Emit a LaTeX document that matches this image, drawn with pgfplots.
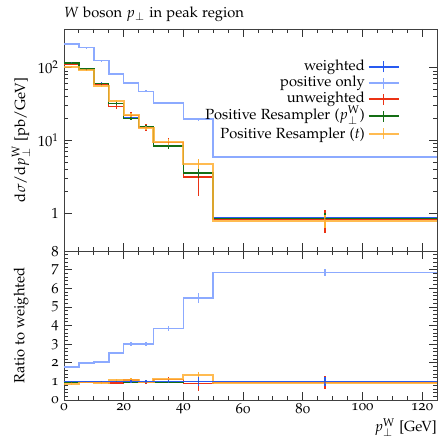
\documentclass[border=0pt]{standalone}
\usepackage[T1]{fontenc}
\usepackage[osf]{mathpazo}
\usepackage{pgfplots}
\pgfplotsset{compat=1.18}
\usepackage{pgfplotstable}

\definecolor{wblue}{RGB}{40,90,240}
\definecolor{pblue}{RGB}{140,170,255}
\definecolor{ured}{RGB}{235,50,20}
\definecolor{pgreen}{RGB}{20,110,20}
\definecolor{porange}{RGB}{255,175,50}

% lo: bin low edge, c: bin centre, y: dsigma/dpT, r: ratio to weighted, e: relative error
\pgfplotstableread{
lo c y r e
0 2.5 118 1 0.02
5 7.5 95.5 1 0.02
10 12.5 61 1 0.03
15 17.5 32 1 0.04
20 22.5 20.4 1 0.06
25 27.5 15.6 1 0.06
30 35 8.5 1 0.10
40 45 3.57 1 0.25
50 87.5 0.856 1 0.25
125 87.5 0.856 1 0
}\weighted
\pgfplotstableread{
lo c y r e
0 2.5 210 1.78 0.01
5 7.5 189 1.98 0.01
10 12.5 125 2.05 0.02
15 17.5 81 2.53 0.02
20 22.5 61.6 3.02 0.03
25 27.5 47.1 3.02 0.03
30 35 32.6 3.84 0.03
40 45 19.6 5.49 0.05
50 87.5 5.87 6.86 0.03
125 87.5 5.87 6.86 0
}\positive
\pgfplotstableread{
lo c y r e
0 2.5 112.1 0.95 0.03
5 7.5 93.6 0.98 0.03
10 12.5 59.8 0.98 0.04
15 17.5 29.4 0.92 0.07
20 22.5 22.0 1.08 0.10
25 27.5 15.1 0.97 0.10
30 35 9.35 1.10 0.15
40 45 3.14 0.88 0.45
50 87.5 0.813 0.95 0.35
125 87.5 0.813 0.95 0
}\unweighted
\pgfplotstableread{
lo c y r e
0 2.5 115.6 0.98 0.02
5 7.5 95.5 1.00 0.02
10 12.5 60.4 0.99 0.03
15 17.5 32 1.00 0.04
20 22.5 20.0 0.98 0.06
25 27.5 15.4 0.99 0.06
30 35 8.33 0.98 0.08
40 45 3.57 1.00 0.15
50 87.5 0.847 0.99 0.20
125 87.5 0.847 0.99 0
}\respt
\pgfplotstableread{
lo c y r e
0 2.5 102.7 0.87 0.02
5 7.5 92.6 0.97 0.02
10 12.5 56.7 0.93 0.03
15 17.5 34.6 1.08 0.04
20 22.5 22.4 1.10 0.06
25 27.5 14.8 0.95 0.06
30 35 9.52 1.12 0.08
40 45 4.75 1.33 0.15
50 87.5 0.788 0.92 0.20
125 87.5 0.788 0.92 0
}\rest

\pgfplotsset{
  rivet/.style={
    scale only axis, width=253.6pt,
    xmin=0, xmax=125,
    axis line style={line width=0.6pt, color=black!75},
    every tick/.style={line width=0.6pt, color=black!80},
    major tick length=5.4pt, minor tick length=2.7pt,
    tick align=inside,
    xtick={0,20,...,120}, minor x tick num=3,
    /pgf/number format/assume math mode=true,
    clip=true,
  },
  hist/.style={const plot, line width=1pt, mark=none},
  errb/.style={forget plot, only marks, mark=*, mark options={draw=none, fill=none, scale=0.01},
    error bars/.cd, y dir=both, y explicit, error mark=none,
    error bar style={line width=0.9pt}},
}

\begin{document}
\begin{tikzpicture}
\begin{axis}[rivet, name=top,
  height=151pt,
  ymode=log, ymin=0.3, ymax=340,
  ytick={1,10,100}, yticklabels={$1$,$10^1$,$10^2$},
  xticklabels={},
  ylabel={$\mathrm{d}\sigma/\mathrm{d}p_\perp^{\mathrm{W}}$ [pb/GeV]},
  ylabel style={at={(axis description cs:-0.115,0.5)}, anchor=center, rotate=0},
  title={$W$ boson $p_\perp$ in peak region},
  title style={at={(axis description cs:0,1)}, anchor=base west, yshift=2pt, inner sep=0pt},
  legend style={at={(axis description cs:0.9,0.865)}, anchor=north east, draw=none, fill=none,
    font=\normalsize, row sep=0.6pt, inner sep=0pt,
    nodes={text height=7.4pt, text depth=2.5pt, inner ysep=0.25pt}},
  legend cell align=right, legend plot pos=right,
  legend image code/.code={
    \draw[#1, mark=none, line width=1.1pt] (0cm,0cm) -- (0.72cm,0cm);
    \draw[#1, mark=none, line width=0.9pt] (0.36cm,-0.13cm) -- (0.36cm,0.13cm);},
]
\addplot[hist, wblue] table[x=lo,y=y]{\weighted};
\addlegendentry{weighted}
\addplot[hist, pblue, line width=1.1pt] table[x=lo,y=y]{\positive};
\addlegendentry{positive only}
\addplot[hist, ured] table[x=lo,y=y]{\unweighted};
\addlegendentry{unweighted}
\addplot[hist, pgreen] table[x=lo,y=y]{\respt};
\addlegendentry[text depth=3.4pt]{Positive Resampler ($p_\perp^{\mathrm{W}}$)}
\addplot[hist, porange, line width=1.4pt, opacity=0.85] table[x=lo,y=y]{\rest};
\addlegendentry[text height=8.4pt]{Positive Resampler ($t$)}

\addplot[wblue, errb] table[x=c,y=y,y error expr=\thisrow{y}*\thisrow{e}]{\weighted};
\addplot[pblue, errb] table[x=c,y=y,y error expr=\thisrow{y}*\thisrow{e}]{\positive};
\addplot[ured, errb] table[x=c,y=y,y error expr=\thisrow{y}*\thisrow{e}]{\unweighted};
\addplot[pgreen, errb] table[x=c,y=y,y error expr=\thisrow{y}*\thisrow{e}]{\respt};
\addplot[porange, errb] table[x=c,y=y,y error expr=\thisrow{y}*\thisrow{e}]{\rest};
\end{axis}

\begin{axis}[rivet, name=ratio, at={(top.south west)}, anchor=north west,
  height=101.3pt,
  ymin=0, ymax=8, ytick={0,1,...,8}, minor y tick num=4,
  ylabel={Ratio to weighted},
  ylabel style={at={(axis description cs:-0.115,0.5)}, anchor=center},
  xticklabel style={inner ysep=1pt, yshift=-1pt},
  xlabel={$p_\perp^{\mathrm{W}}$ [GeV]},
  xlabel style={at={(axis description cs:1,0)}, anchor=base east, yshift=-21.5pt, inner sep=0pt},
]
\addplot[hist, pblue, line width=1.1pt] table[x=lo,y=r]{\positive};
\addplot[hist, ured] table[x=lo,y=r]{\unweighted};
\addplot[hist, pgreen] table[x=lo,y=r]{\respt};
\addplot[hist, porange, line width=1.4pt, opacity=0.85] table[x=lo,y=r]{\rest};
\addplot[hist, wblue] table[x=lo,y=r]{\weighted};

\addplot[pblue, errb] table[x=c,y=r,y error expr=\thisrow{r}*\thisrow{e}]{\positive};
\addplot[ured, errb] table[x=c,y=r,y error expr=\thisrow{r}*\thisrow{e}]{\unweighted};
\addplot[pgreen, errb] table[x=c,y=r,y error expr=\thisrow{r}*\thisrow{e}]{\respt};
\addplot[porange, errb] table[x=c,y=r,y error expr=\thisrow{r}*\thisrow{e}]{\rest};
\addplot[wblue, errb] table[x=c,y=r,y error expr=\thisrow{r}*\thisrow{e}]{\weighted};
\end{axis}
\path ([xshift=-43.5pt,yshift=19.7pt]top.north west) rectangle ([xshift=2pt,yshift=-24.5pt]ratio.south east);
\end{tikzpicture}
\end{document}
